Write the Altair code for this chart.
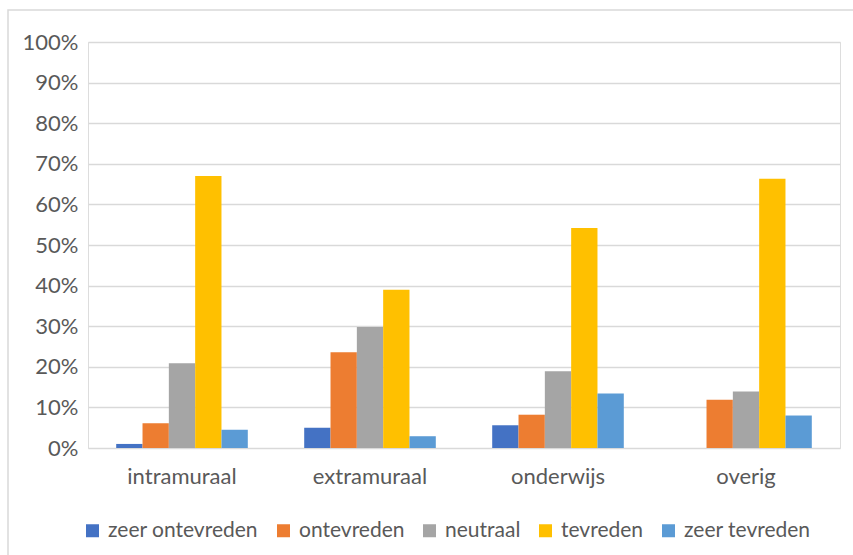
import altair as alt
import pandas as pd

categories = ["intramuraal", "extramuraal", "onderwijs", "overig"]
series = ["zeer ontevreden", "ontevreden", "neutraal", "tevreden", "zeer tevreden"]
colors = ["#4472C4", "#ED7D31", "#A5A5A5", "#FFC000", "#5B9BD5"]

zeer_ontevreden = [0.010, 0.050, 0.056, 0.0]
ontevreden = [0.061, 0.236, 0.082, 0.119]
neutraal = [0.209, 0.298, 0.189, 0.139]
tevreden = [0.670, 0.390, 0.542, 0.663]
zeer_tevreden = [0.045, 0.029, 0.134, 0.080]

vals = [zeer_ontevreden, ontevreden, neutraal, tevreden, zeer_tevreden]
rows = []
for s, v in zip(series, vals):
    for c, x in zip(categories, v):
        rows.append({"cat": c, "series": s, "value": x})
df = pd.DataFrame(rows)

FONT = "Lato"
TXT = "#595959"
GRID = "#d9d9d9"

border = alt.Chart(pd.DataFrame({"a": [0]})).mark_rect(
    fillOpacity=0, stroke=GRID, strokeWidth=1.5
).encode(
    x=alt.value(-80), x2=alt.value(790), y=alt.value(-32), y2=alt.value(560)
)

bars = alt.Chart(df).mark_bar().encode(
    x=alt.X("cat:N", sort=categories, title=None,
            scale=alt.Scale(paddingInner=0.3, paddingOuter=0.15),
            axis=alt.Axis(labelAngle=0, ticks=False, domain=False, labelPadding=18,
                          labelFontSize=22, labelColor=TXT, labelFont=FONT)),
    xOffset=alt.XOffset("series:N", sort=series, scale=alt.Scale(paddingInner=0, paddingOuter=0)),
    y=alt.Y("value:Q", title=None,
            scale=alt.Scale(domain=[0, 1], nice=False),
            axis=alt.Axis(format=".0%", values=[i / 10 for i in range(11)], ticks=False,
                          domain=False, labelPadding=10, labelFontSize=22, labelColor=TXT,
                          labelFont=FONT, gridColor=GRID, gridWidth=1.5)),
    color=alt.Color("series:N", sort=series,
                    scale=alt.Scale(domain=series, range=colors),
                    legend=alt.Legend(title=None, orient="none", legendX=-6, legendY=478,
                                      direction="horizontal", columns=5, symbolType="square",
                                      symbolSize=169, symbolStrokeWidth=0, labelFontSize=21,
                                      labelColor=TXT, labelFont=FONT, columnPadding=14,
                                      labelOffset=5)),
)

chart = alt.layer(border, bars).properties(
    width=752, height=406,
    autosize=alt.AutoSizeParams(type="none"),
    padding={"left": 88, "top": 42, "right": 13, "bottom": 107},
).configure_view(stroke=None).configure(background="white")

chart.save("out.html", embed_options={"renderer": "svg", "actions": False})
